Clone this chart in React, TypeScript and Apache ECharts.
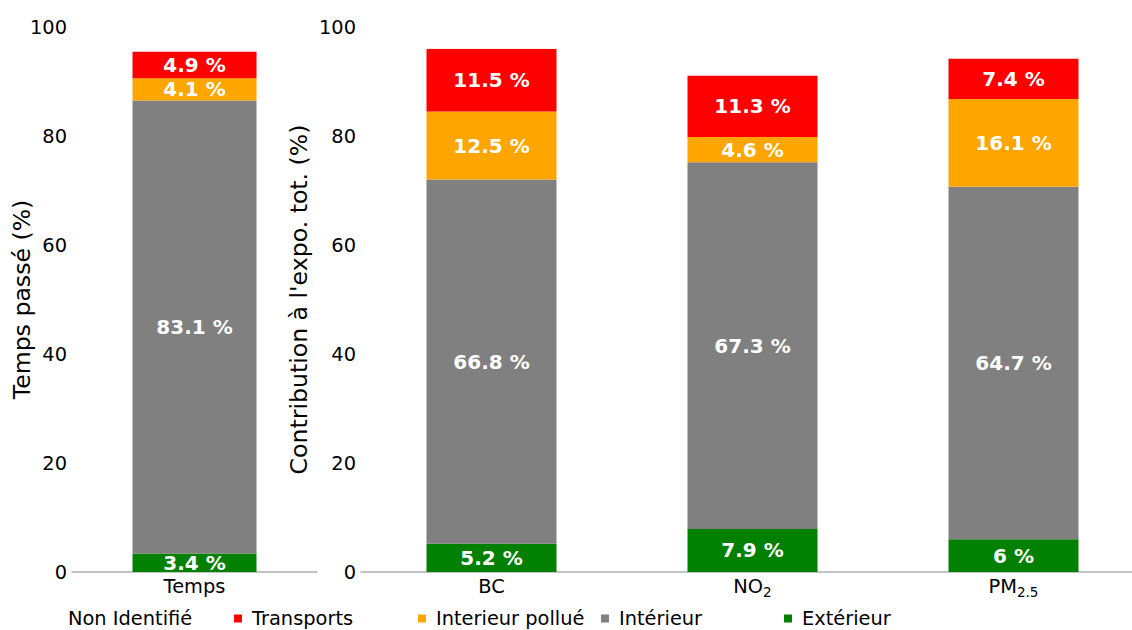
import React, { useEffect, useRef } from "react";
import * as echarts from "echarts";

const leftCategories = ["Temps"];
const rightCategories = ["BC", "NO2", "PM2.5"];

const seriesNames = ["Extérieur", "Intérieur", "Interieur pollué", "Transports", "Non Identifié"];
const colors = ["#008000", "#808080", "#ffa500", "#ff0000", "#ffffff"];

const leftValues = [[3.4], [83.1], [4.1], [4.9], [4.5]];
const rightValues = [
  [5.2, 7.9, 6.0],
  [66.8, 67.3, 64.7],
  [12.5, 4.6, 16.1],
  [11.5, 11.3, 7.4],
  [4.0, 8.9, 5.8],
];

const yTicks = { min: 0, max: 100, interval: 20 };

const legendOrder = ["Non Identifié", "Transports", "Interieur pollué", "Intérieur", "Extérieur"];
const legendLeft = [50, 234, 418, 601, 784];

const FONT = "DejaVu Sans";

export default function App() {
  const ref = useRef<HTMLDivElement>(null);
  useEffect(() => {
    if (!ref.current) return;
    const chart = echarts.init(ref.current, undefined, { renderer: "svg" });
    const yAxisBase = {
      type: "value",
      min: yTicks.min,
      max: yTicks.max,
      interval: yTicks.interval,
      nameLocation: "middle",
      nameRotate: 90,
      nameMoveOverlap: false,
      nameTextStyle: { fontFamily: FONT, fontSize: 23.6, color: "#000" },
      axisLine: { show: false },
      axisTick: { show: false },
      splitLine: { show: false },
      axisLabel: { fontFamily: FONT, fontSize: 19.4, color: "#000", margin: 5 },
    };
    const xAxisBase = {
      type: "category",
      axisLine: { show: true, lineStyle: { color: "#b0b0b0", width: 1.5 } },
      axisTick: { show: false },
      axisLabel: {
        fontFamily: FONT,
        fontSize: 19.4,
        color: "#000",
        margin: 3,
        formatter: (v: string) => {
          if (v === "NO2") return "{a|NO}{b|2}";
          if (v === "PM2.5") return "{a|PM}{b|2.5}";
          return "{a|" + v + "}";
        },
        rich: {
          a: { fontFamily: FONT, fontSize: 19.4, color: "#000", lineHeight: 22 },
          b: { fontFamily: FONT, fontSize: 13.5, color: "#000", lineHeight: 22, padding: [12, 0, 0, 0] },
        },
      },
    };
    const mkLabel = (i: number) =>
      i < 4
        ? {
            show: true,
            position: "inside",
            color: "#fff",
            fontFamily: FONT,
            fontWeight: "bold",
            fontSize: 20,
            formatter: (p: any) => p.value + " %",
          }
        : { show: false };

    const series: any[] = [];
    seriesNames.forEach((name, i) => {
      series.push({
        name,
        type: "bar",
        stack: "left",
        xAxisIndex: 0,
        yAxisIndex: 0,
        barWidth: 124,
        data: leftValues[i],
        itemStyle: { color: colors[i] },
        label: mkLabel(i),
      });
      series.push({
        name,
        type: "bar",
        stack: "right",
        xAxisIndex: 1,
        yAxisIndex: 1,
        barWidth: 130,
        data: rightValues[i],
        itemStyle: { color: colors[i] },
        label: mkLabel(i),
      });
    });

    chart.setOption({
      animation: false,
      grid: [
        { left: 72, width: 245, top: 27, bottom: 58 },
        { left: 361, width: 783, top: 27, bottom: 58 },
      ],
      xAxis: [
        { ...xAxisBase, gridIndex: 0, data: leftCategories },
        { ...xAxisBase, gridIndex: 1, data: rightCategories },
      ],
      yAxis: [
        { ...yAxisBase, gridIndex: 0, name: "Temps passé (%)", nameGap: 38 },
        { ...yAxisBase, gridIndex: 1, name: "Contribution à l'expo. tot. (%)", nameGap: 50 },
      ],
      legend: legendOrder.map((n, i) => ({
        data: [n],
        left: legendLeft[i],
        top: 609,
        padding: 0,
        itemWidth: 8,
        itemHeight: 8,
        icon: "rect",
        selectedMode: false,
        textStyle: { fontFamily: FONT, fontSize: 19.4, color: "#000", padding: [0, 0, 0, 5] },
      })),
      series,
    });
    return () => chart.dispose();
  }, []);
  return (
    <div style={{ position: "fixed", left: 0, top: 0, width: 1132, height: 630, overflow: "hidden", background: "#fff" }}>
      <div ref={ref} style={{ width: 1150, height: 630 }} />
    </div>
  );
}
